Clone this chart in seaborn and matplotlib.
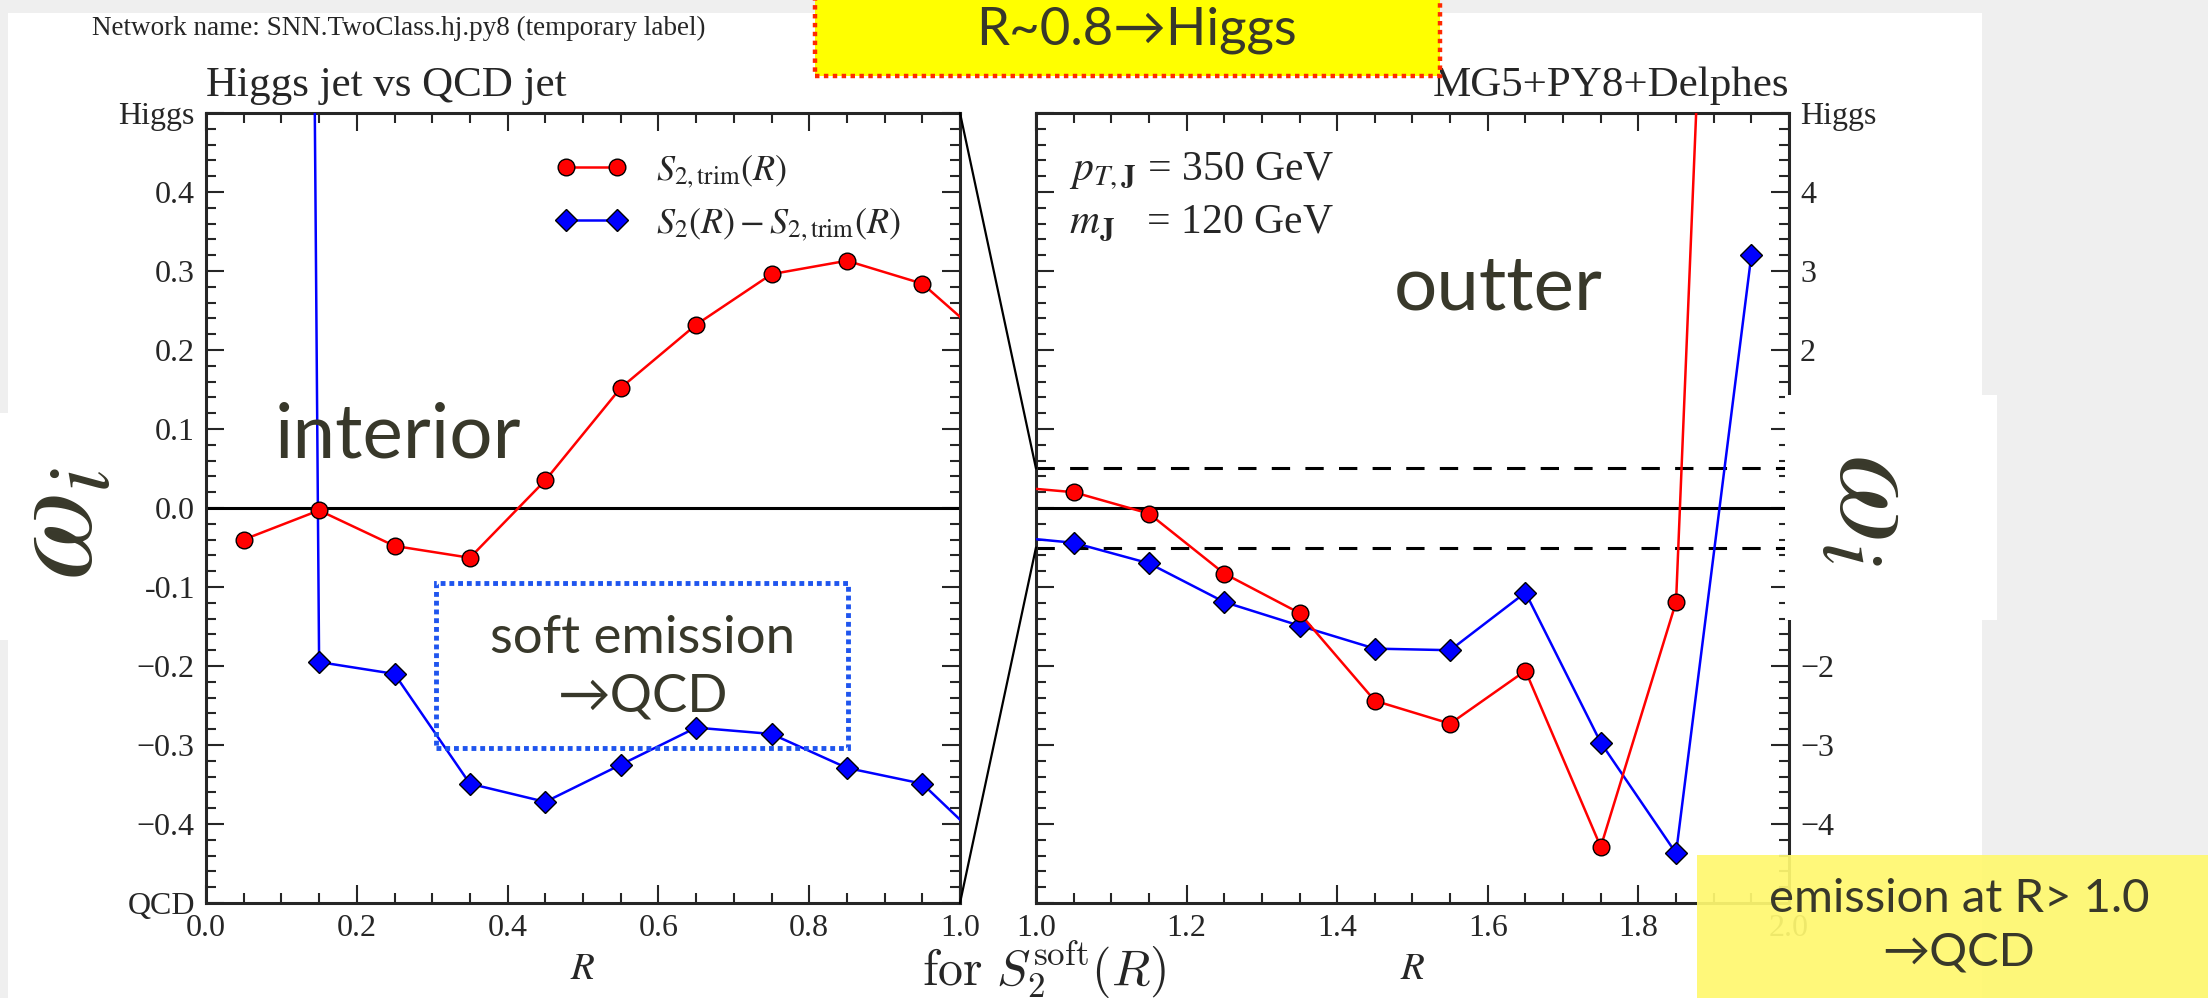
import numpy as np
import pandas as pd
import matplotlib
matplotlib.use("Agg")
import matplotlib.pyplot as plt
import seaborn as sns
from matplotlib.patches import Rectangle, ConnectionPatch
from matplotlib.lines import Line2D
from matplotlib.ticker import MultipleLocator, FixedLocator, FixedFormatter

# ---------------- data ----------------
R_values = [0.05, 0.15, 0.25, 0.35, 0.45, 0.55, 0.65, 0.75, 0.85, 0.95,
            1.05, 1.15, 1.25, 1.35, 1.45, 1.55, 1.65, 1.75, 1.85, 1.95]
s2_trim = [-0.040, -0.003, -0.048, -0.063, 0.035, 0.152, 0.232, 0.296, 0.313, 0.284,
           0.20, -0.07, -0.83, -1.33, -2.44, -2.73, -2.06, -4.29, -1.19, 22.0]
s2_minus_trim = [12.0, -0.195, -0.210, -0.349, -0.372, -0.325, -0.278, -0.286, -0.329, -0.349,
                 -0.44, -0.70, -1.19, -1.49, -1.78, -1.80, -1.07, -2.97, -4.37, 3.2]
series_labels = [r"$S_{2,\mathrm{trim}}(R)$", r"$S_2(R) - S_{2,\mathrm{trim}}(R)$"]

left_yticks = [-0.5, -0.4, -0.3, -0.2, -0.1, 0.0, 0.1, 0.2, 0.3, 0.4, 0.5]
left_yticklabels = ["QCD", "\u22120.4", "\u22120.3", "\u22120.2", "-0.1", "0.0",
                    "0.1", "0.2", "0.3", "0.4", "Higgs"]
right_yticks = [-5, -4, -3, -2, -1, 0, 1, 2, 3, 4, 5]
# labels at -5, -1, 0 and 1 are hidden behind the overlay boxes in the reference
right_yticklabels = ["", "\u22124", "\u22123", "\u22122", "", "",
                     "", "2", "3", "4", "Higgs"]
left_xticks = [0.0, 0.2, 0.4, 0.6, 0.8, 1.0]
right_xticks = [1.0, 1.2, 1.4, 1.6, 1.8, 2.0]

df = pd.DataFrame({"R": R_values, "trim": s2_trim, "diff": s2_minus_trim})

# ---------------- style ----------------
sns.set_theme(style="ticks")
plt.rcParams["font.family"] = ["Liberation Serif", "DejaVu Serif"]
plt.rcParams["mathtext.fontset"] = "stix"
plt.rcParams["axes.unicode_minus"] = True

W, H = 2208, 998
fig = plt.figure(figsize=(W / 100, H / 100), dpi=100)
fig.patch.set_facecolor("#efefef")

def fx(x):
    return x / W

def fy(y):
    return 1 - y / H

# white picture area
fig.add_artist(Rectangle((fx(8), 0), fx(1982) - fx(8), fy(13), transform=fig.transFigure,
                         facecolor="white", edgecolor="none", zorder=-10))
fig.add_artist(Rectangle((0, fy(640)), fx(10), fy(413) - fy(640), transform=fig.transFigure,
                         facecolor="white", edgecolor="none", zorder=-10))

axL = fig.add_axes([fx(206), fy(903), (960 - 206) / W, 790 / H])
axR = fig.add_axes([fx(1036), fy(903), (1789 - 1036) / W, 790 / H])

red = "#ff0000"
blue = "#0000ff"
for ax in (axL, axR):
    sns.lineplot(data=df, x="R", y="trim", ax=ax, color=red, marker="o", markersize=12,
                 markeredgecolor="black", markeredgewidth=1.0, linewidth=1.8,
                 estimator=None, sort=False, legend=False, zorder=4)
    sns.lineplot(data=df, x="R", y="diff", ax=ax, color=blue, marker="D", markersize=11,
                 markeredgecolor="black", markeredgewidth=1.0, linewidth=1.8,
                 estimator=None, sort=False, legend=False, zorder=3)
    for sp in ax.spines.values():
        sp.set_linewidth(2.2)
        sp.set_visible(True)
    ax.tick_params(which="both", direction="in", top=True, bottom=True, left=True, right=True,
                   width=1.5, labelsize=23, pad=8)
    ax.tick_params(which="major", length=13)
    ax.tick_params(which="minor", length=7)
    ax.set_xlabel("$R$", fontsize=28, labelpad=6)
    ax.set_ylabel("")
    ax.axhline(0, color="black", lw=2.2, zorder=2)

axL.set_xlim(0, 1)
axL.set_ylim(-0.5, 0.5)
axL.xaxis.set_major_locator(FixedLocator(left_xticks))
axL.xaxis.set_minor_locator(MultipleLocator(0.05))
axL.yaxis.set_major_locator(FixedLocator(left_yticks))
axL.yaxis.set_major_formatter(FixedFormatter(left_yticklabels))
axL.yaxis.set_minor_locator(MultipleLocator(0.02))
axL.set_xticklabels([f"{v:.1f}" for v in left_xticks])
axL.tick_params(labelleft=True, labelright=False)

axR.set_xlim(1, 2)
axR.set_ylim(-5, 5)
axR.xaxis.set_major_locator(FixedLocator(right_xticks))
axR.xaxis.set_minor_locator(MultipleLocator(0.05))
axR.yaxis.set_major_locator(FixedLocator(right_yticks))
axR.yaxis.set_major_formatter(FixedFormatter(right_yticklabels))
axR.yaxis.set_minor_locator(MultipleLocator(0.2))
axR.set_xticklabels([f"{v:.1f}" for v in right_xticks])
axR.tick_params(labelleft=False, labelright=True)
for y in (0.5, -0.5):
    axR.axhline(y, color="black", lw=2.2, ls=(0, (6, 5)), zorder=2)

axL.set_title("Higgs jet vs QCD jet", loc="left", fontsize=31, pad=12)
axR.set_title("MG5+PY8+Delphes", loc="right", fontsize=31, pad=12)

# legend
handles = [
    Line2D([], [], color=red, marker="o", markersize=12, markeredgecolor="black", lw=1.8),
    Line2D([], [], color=blue, marker="D", markersize=11, markeredgecolor="black", lw=1.8),
]
axL.legend(handles, series_labels, loc="upper left", bbox_to_anchor=(0.42, 0.99),
           frameon=False, fontsize=26, numpoints=2, handlelength=2.0, labelspacing=0.45,
           handletextpad=0.8)

# zoom connectors
for yv in (0.5, -0.5):
    con = ConnectionPatch(xyA=(1.0, yv), coordsA=axL.transData, xyB=(1.0, yv),
                          coordsB=axR.transData, color="black", lw=1.6, zorder=6)
    fig.add_artist(con)

# annotations inside right axes
axR.text(0.044, 0.915, r"$p_{T,\mathbf{J}}$ = 350 GeV", transform=axR.transAxes, fontsize=30,
         ha="left", va="baseline")
axR.text(0.044, 0.848, r"$m_{\mathbf{J}}$   = 120 GeV", transform=axR.transAxes, fontsize=30,
         ha="left", va="baseline")

olive = "#38382a"
sans = ["Lato", "DejaVu Sans"]
fig.text(fx(398), fy(436), "interior", fontsize=55, color=olive, family=sans,
         ha="center", va="center")
fig.text(fx(1498), fy(288), "outter", fontsize=55, color=olive, family=sans,
         ha="center", va="center")

# soft emission box
fig.add_artist(Rectangle((fx(436), fy(748)), fx(848) - fx(436), fy(583) - fy(748),
                         transform=fig.transFigure, facecolor="none", edgecolor="#1f55ee",
                         lw=3.5, ls=(0, (1, 0.8)), zorder=7))
fig.text(fx(643), fy(668), "soft emission\n\u2192QCD", fontsize=38, color=olive, family=sans,
         ha="center", va="center", linespacing=1.3, zorder=8)

# header text
fig.text(fx(92), fy(35), "Network name: SNN.TwoClass.hj.py8 (temporary label)", fontsize=19.5,
         ha="left", va="baseline")

# top yellow box
fig.add_artist(Rectangle((fx(815), fy(76)), fx(1440) - fx(815), fy(-10) - fy(76),
                         transform=fig.transFigure, facecolor="#ffff00", edgecolor="#ff2a00",
                         lw=3.2, ls=(0, (1, 1)), zorder=9))
fig.text(fx(1136), fy(30), "R~0.8\u2192Higgs", fontsize=38, color=olive, family=sans,
         ha="center", va="center", zorder=10)

# bottom x label text
fig.text(fx(922), fy(986), r"$\mathrm{for}\ S_2^{\mathrm{soft}}(R)$", fontsize=36,
         math_fontfamily="cm", ha="left", va="baseline")

# omega labels
fig.add_artist(Rectangle((fx(1785), fy(620)), fx(1997) - fx(1785), fy(395) - fy(620),
                         transform=fig.transFigure, facecolor="white", edgecolor="none",
                         zorder=11))
fig.text(fx(62), fy(523), r"$\omega_i$", fontsize=92, color=olive, rotation=90,
         ha="center", va="center", zorder=12)
fig.text(fx(1870), fy(510), r"$\omega_i$", fontsize=92, color=olive, rotation=-90,
         ha="center", va="center", zorder=12)

# bottom-right yellow box
fig.add_artist(Rectangle((fx(1697), 0), 1 - fx(1697), fy(855), transform=fig.transFigure,
                         facecolor="#fff870", edgecolor="none", alpha=0.93, zorder=13))
fig.text(fx(1959), fy(926), "emission at R> 1.0\n\u2192QCD", fontsize=34, color=olive,
         family=sans, ha="center", va="center", linespacing=1.35, zorder=14)

fig.savefig("out.png", dpi=100, facecolor=fig.get_facecolor())
